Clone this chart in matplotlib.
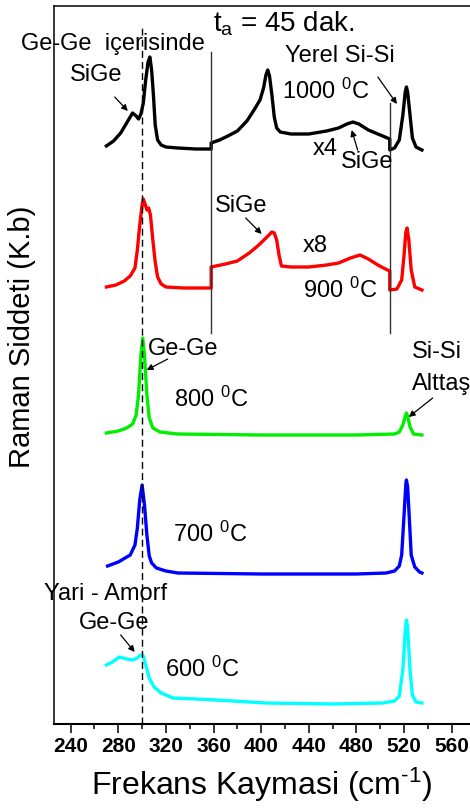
import numpy as np
import matplotlib
matplotlib.use("Agg")
import matplotlib.pyplot as plt

plt.rcParams['font.family'] = ['Liberation Sans', 'DejaVu Sans']
plt.rcParams['mathtext.fontset'] = 'custom'
plt.rcParams['mathtext.rm'] = 'Liberation Sans'
plt.rcParams['mathtext.it'] = 'Liberation Sans:italic'

# spectra (frequency in cm-1, intensity in arbitrary units)
f_1000 = [270, 276, 282, 287, 292, 295, 297, 299, 301, 303, 305, 306.5, 308, 309.5, 311, 313, 316, 320, 330, 345, 358,
          358, 365, 372, 380, 388, 394, 399, 402, 404, 405.5, 407, 409, 411, 413, 416, 425, 440, 455, 465, 472, 477,
          482, 490, 498, 506, 508, 508, 512, 516, 519, 521, 522, 523, 525, 527, 530, 535]
i_1000 = [578, 583, 591, 601, 611, 608, 605, 610, 621, 644, 662, 667, 654, 629, 599, 584, 579, 577, 576, 575, 575,
          581, 584, 588, 593, 603, 614, 624, 636, 649, 654, 648, 629, 607, 596, 592, 590, 590, 593, 596, 600, 602,
          600, 594, 590, 586, 585, 574, 576, 584, 609, 632, 637, 632, 609, 586, 577, 574]

f_900 = [270, 278, 285, 290, 294, 296, 298, 300, 301, 302.5, 304, 305.5, 307, 309, 311, 313, 316, 320, 335, 358,
         358, 370, 380, 390, 398, 404, 409, 411, 413, 415, 417, 425, 440, 455, 465, 475, 483, 490, 498, 506, 508,
         508, 514, 518, 520, 521.5, 522.5, 524, 526, 529, 535]
i_900 = [437, 439, 443, 448, 456, 474, 499, 519, 525, 520, 514, 516, 509, 484, 462, 447, 440, 437, 436, 436,
         457, 460, 463, 471, 479, 486, 492, 491, 484, 469, 458, 457, 457, 459, 461, 466, 469, 465, 459, 454, 453,
         434, 435, 444, 469, 492, 496, 484, 454, 437, 434]

f_800 = [270, 280, 287, 292, 295, 297, 299, 300.5, 302, 304, 306, 309, 315, 330, 400, 480, 512, 516, 519, 521,
         522, 523, 525, 528, 535]
i_800 = [291, 293, 296, 300, 309, 329, 369, 386, 369, 329, 306, 296, 292, 290, 289, 289, 290, 292, 299, 308,
         311, 308, 297, 290, 289]

f_700 = [271, 280, 290, 294, 296, 298, 300, 302, 304, 306, 308, 312, 320, 330, 400, 480, 505, 512, 516, 518,
         520, 521.5, 522, 523, 524.5, 526, 529, 533, 535]
i_700 = [158, 162, 169, 179, 196, 224, 239, 219, 189, 168, 161, 156, 153, 151, 150, 150, 151, 153, 158, 169,
         209, 240, 244, 237, 204, 169, 157, 152, 151]

f_600 = [270, 275, 281, 287, 292, 296, 299, 301, 303, 306, 310, 316, 326, 345, 362, 404, 460, 502, 512, 516,
         519, 521, 522, 523, 525, 527, 530, 535]
i_600 = [59, 62, 67, 65, 64, 66, 69, 68, 59, 46, 37, 31, 26, 25, 24, 21, 20, 21, 23, 28,
         54, 94, 104, 96, 54, 29, 22, 21]

xticks_major = [240, 280, 320, 360, 400, 440, 480, 520, 560]

fig = plt.figure(figsize=(4.7, 8.1), dpi=100)
ax = fig.add_axes([54 / 470, 86 / 810, 421.5 / 470, 718 / 810])

ax.plot(f_1000, i_1000, color='black', lw=2.4)
ax.plot(f_900, i_900, color='#ff0000', lw=2.4)
ax.plot(f_800, i_800, color='#00ee00', lw=2.4)
ax.plot(f_700, i_700, color='#0000ff', lw=2.4)
ax.plot(f_600, i_600, color='#00ffff', lw=2.4)

# guide lines
ax.plot([300, 300], [0, 699], color='black', lw=1, ls=(0, (5, 3)))
ax.plot([358, 358], [391, 672], color='#333333', lw=1)
ax.plot([508, 508], [391, 621], color='#333333', lw=1)

ax.set_xlim(226, 580)
ax.set_ylim(0, 718)
ax.set_yticks([])
ax.set_xticks(xticks_major)
ax.set_xticks(np.arange(260, 580, 40), minor=True)
ax.tick_params(axis='x', which='major', length=6.5, width=1.1, direction='out', pad=3)
ax.tick_params(axis='x', which='minor', length=3.6, width=1.1, direction='out')
for lab in ax.get_xticklabels():
    lab.set_fontweight('bold')
    lab.set_fontsize(15)
for sp in ax.spines.values():
    sp.set_linewidth(1.1)
ax.spines['bottom'].set_linewidth(1.5)

fs = 17
def label(x, y, s, size=fs):
    ax.text(x, y, s, fontsize=size, va='baseline', ha='left', clip_on=False)

def arrow(x0, y0, x1, y1):
    ax.annotate('', xy=(x1, y1), xytext=(x0, y0),
                arrowprops=dict(arrowstyle='-|>', color='black', lw=0.9, mutation_scale=9,
                                shrinkA=0, shrinkB=0))

label(198, 674, 'Ge-Ge  içerisinde')
label(359.3, 692, r't$_\mathrm{a}$ = 45 dak.', size=20)
label(239, 643, 'SiGe')
arrow(277, 627, 288, 613)
label(419.7, 662, 'Yerel Si-Si')
label(417.2, 625, r'1000 $^0$C')
arrow(498, 647, 514, 620)
label(443.3, 569, 'x4')
label(466.8, 556, 'SiGe')
arrow(481, 574, 476, 594)
label(361, 512, 'SiGe')
arrow(387, 506, 400.4, 490)
label(434.9, 472, 'x8')
label(434.9, 426, r'900 $^0$C')
label(304.7, 369, 'Ge-Ge')
arrow(321.5, 365, 303.8, 354)
label(326.5, 317, r'800 $^0$C')
label(526.4, 366, 'Si-Si')
label(526.4, 334, 'Alttaş')
arrow(544, 326, 524, 307)
label(325.7, 182, r'700 $^0$C')
label(218, 124, 'Yari - Amorf')
label(246.7, 95, 'Ge-Ge')
arrow(282, 89, 293.8, 72)
label(319, 47, r'600 $^0$C')

fig.text(22 / 470, 1 - 337 / 810, 'Raman Siddeti (K.b)', rotation=90, fontsize=21,
         ha='center', va='center')
fig.text(262 / 470, 15 / 810, r'Frekans Kaymasi (cm$^{\text{-1}}$)', fontsize=23,
         ha='center', va='baseline')

fig.savefig('out.png', dpi=100)
